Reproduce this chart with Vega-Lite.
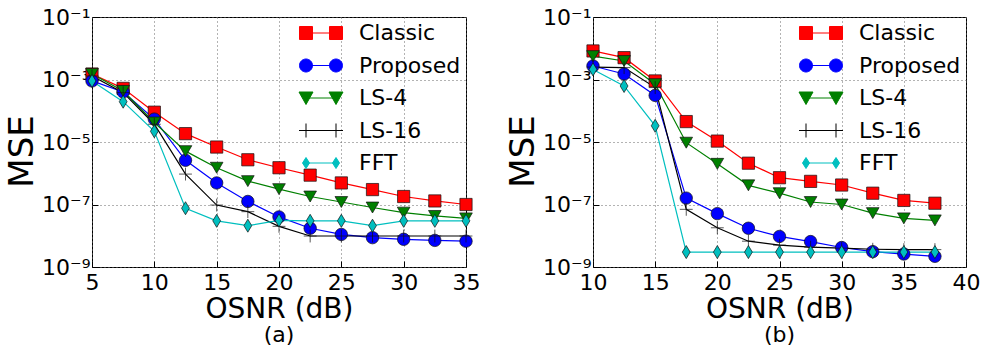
{
  "$schema": "https://vega.github.io/schema/vega-lite/v6.json",
  "background": "white",
  "padding": 5,
  "spacing": 25,
  "config": {
    "font": "DejaVu Sans",
    "view": {"stroke": "black", "strokeWidth": 1},
    "axis": {
      "labelFontSize": 22,
      "titleFontSize": 28,
      "titleFontWeight": "normal",
      "labelColor": "black",
      "titleColor": "black",
      "labelFlush": false,
      "labelOverlap": false,
      "domain": false,
      "ticks": true,
      "tickSize": -6,
      "tickColor": "black",
      "tickWidth": 1,
      "grid": true,
      "gridColor": "#666666",
      "gridDash": [1, 3],
      "gridWidth": 1
    },
    "legend": {
      "labelFontSize": 22,
      "labelColor": "black",
      "labelFont": "DejaVu Sans"
    }
  },
  "datasets": {
    "a": [
      {"osnr": 5, "series": "Classic", "mse": 1.5e-3},
      {"osnr": 7.5, "series": "Classic", "mse": 5.2e-4},
      {"osnr": 10, "series": "Classic", "mse": 9e-5},
      {"osnr": 12.5, "series": "Classic", "mse": 1.85e-5},
      {"osnr": 15, "series": "Classic", "mse": 6.9e-6},
      {"osnr": 17.5, "series": "Classic", "mse": 2.7e-6},
      {"osnr": 20, "series": "Classic", "mse": 1.5e-6},
      {"osnr": 22.5, "series": "Classic", "mse": 8.7e-7},
      {"osnr": 25, "series": "Classic", "mse": 4.9e-7},
      {"osnr": 27.5, "series": "Classic", "mse": 3e-7},
      {"osnr": 30, "series": "Classic", "mse": 1.8e-7},
      {"osnr": 32.5, "series": "Classic", "mse": 1.3e-7},
      {"osnr": 35, "series": "Classic", "mse": 1e-7},
      {"osnr": 5, "series": "Proposed", "mse": 9e-4},
      {"osnr": 7.5, "series": "Proposed", "mse": 4e-4},
      {"osnr": 10, "series": "Proposed", "mse": 5.4e-5},
      {"osnr": 12.5, "series": "Proposed", "mse": 2.6e-6},
      {"osnr": 15, "series": "Proposed", "mse": 4.9e-7},
      {"osnr": 17.5, "series": "Proposed", "mse": 1.25e-7},
      {"osnr": 20, "series": "Proposed", "mse": 4e-8},
      {"osnr": 22.5, "series": "Proposed", "mse": 1.74e-8},
      {"osnr": 25, "series": "Proposed", "mse": 1.1e-8},
      {"osnr": 27.5, "series": "Proposed", "mse": 8.7e-9},
      {"osnr": 30, "series": "Proposed", "mse": 7.7e-9},
      {"osnr": 32.5, "series": "Proposed", "mse": 7.1e-9},
      {"osnr": 35, "series": "Proposed", "mse": 6.7e-9},
      {"osnr": 5, "series": "LS-4", "mse": 1.5e-3},
      {"osnr": 7.5, "series": "LS-4", "mse": 4.3e-4},
      {"osnr": 10, "series": "LS-4", "mse": 4.2e-5},
      {"osnr": 12.5, "series": "LS-4", "mse": 5.1e-6},
      {"osnr": 15, "series": "LS-4", "mse": 1.5e-6},
      {"osnr": 17.5, "series": "LS-4", "mse": 5.6e-7},
      {"osnr": 20, "series": "LS-4", "mse": 3.1e-7},
      {"osnr": 22.5, "series": "LS-4", "mse": 1.8e-7},
      {"osnr": 25, "series": "LS-4", "mse": 1.2e-7},
      {"osnr": 27.5, "series": "LS-4", "mse": 8e-8},
      {"osnr": 30, "series": "LS-4", "mse": 5.5e-8},
      {"osnr": 32.5, "series": "LS-4", "mse": 4.3e-8},
      {"osnr": 35, "series": "LS-4", "mse": 3.6e-8},
      {"osnr": 5, "series": "LS-16", "mse": 1.3e-3},
      {"osnr": 7.5, "series": "LS-16", "mse": 3.8e-4},
      {"osnr": 10, "series": "LS-16", "mse": 3.7e-5},
      {"osnr": 12.5, "series": "LS-16", "mse": 9.4e-7},
      {"osnr": 15, "series": "LS-16", "mse": 9.6e-8},
      {"osnr": 17.5, "series": "LS-16", "mse": 5.9e-8},
      {"osnr": 20, "series": "LS-16", "mse": 2e-8},
      {"osnr": 22.5, "series": "LS-16", "mse": 9.8e-9},
      {"osnr": 25, "series": "LS-16", "mse": 9.8e-9},
      {"osnr": 27.5, "series": "LS-16", "mse": 9.8e-9},
      {"osnr": 30, "series": "LS-16", "mse": 9.8e-9},
      {"osnr": 32.5, "series": "LS-16", "mse": 9.8e-9},
      {"osnr": 35, "series": "LS-16", "mse": 9.8e-9},
      {"osnr": 5, "series": "FFT", "mse": 9e-4},
      {"osnr": 7.5, "series": "FFT", "mse": 1.95e-4},
      {"osnr": 10, "series": "FFT", "mse": 2.2e-5},
      {"osnr": 12.5, "series": "FFT", "mse": 7.6e-8},
      {"osnr": 15, "series": "FFT", "mse": 3e-8},
      {"osnr": 17.5, "series": "FFT", "mse": 2.1e-8},
      {"osnr": 20, "series": "FFT", "mse": 3.1e-8},
      {"osnr": 22.5, "series": "FFT", "mse": 3e-8},
      {"osnr": 25, "series": "FFT", "mse": 3e-8},
      {"osnr": 27.5, "series": "FFT", "mse": 2.1e-8},
      {"osnr": 30, "series": "FFT", "mse": 3e-8},
      {"osnr": 32.5, "series": "FFT", "mse": 3e-8},
      {"osnr": 35, "series": "FFT", "mse": 3e-8}
    ],
    "b": [
      {"osnr": 10, "series": "Classic", "mse": 8.2e-3},
      {"osnr": 12.5, "series": "Classic", "mse": 5e-3},
      {"osnr": 15, "series": "Classic", "mse": 9e-4},
      {"osnr": 17.5, "series": "Classic", "mse": 4.5e-5},
      {"osnr": 20, "series": "Classic", "mse": 1.07e-5},
      {"osnr": 22.5, "series": "Classic", "mse": 2.1e-6},
      {"osnr": 25, "series": "Classic", "mse": 7.2e-7},
      {"osnr": 27.5, "series": "Classic", "mse": 5.5e-7},
      {"osnr": 30, "series": "Classic", "mse": 4.2e-7},
      {"osnr": 32.5, "series": "Classic", "mse": 2.3e-7},
      {"osnr": 35, "series": "Classic", "mse": 1.35e-7},
      {"osnr": 37.5, "series": "Classic", "mse": 1.1e-7},
      {"osnr": 10, "series": "Proposed", "mse": 2.7e-3},
      {"osnr": 12.5, "series": "Proposed", "mse": 1.5e-3},
      {"osnr": 15, "series": "Proposed", "mse": 3.1e-4},
      {"osnr": 17.5, "series": "Proposed", "mse": 1.6e-7},
      {"osnr": 20, "series": "Proposed", "mse": 5.1e-8},
      {"osnr": 22.5, "series": "Proposed", "mse": 1.74e-8},
      {"osnr": 25, "series": "Proposed", "mse": 9.5e-9},
      {"osnr": 27.5, "series": "Proposed", "mse": 6.5e-9},
      {"osnr": 30, "series": "Proposed", "mse": 4.2e-9},
      {"osnr": 32.5, "series": "Proposed", "mse": 3.1e-9},
      {"osnr": 35, "series": "Proposed", "mse": 2.6e-9},
      {"osnr": 37.5, "series": "Proposed", "mse": 2.2e-9},
      {"osnr": 10, "series": "LS-4", "mse": 5.6e-3},
      {"osnr": 12.5, "series": "LS-4", "mse": 3.9e-3},
      {"osnr": 15, "series": "LS-4", "mse": 7.1e-4},
      {"osnr": 17.5, "series": "LS-4", "mse": 9.5e-6},
      {"osnr": 20, "series": "LS-4", "mse": 2e-6},
      {"osnr": 22.5, "series": "LS-4", "mse": 4.1e-7},
      {"osnr": 25, "series": "LS-4", "mse": 2.3e-7},
      {"osnr": 27.5, "series": "LS-4", "mse": 1.2e-7},
      {"osnr": 30, "series": "LS-4", "mse": 1e-7},
      {"osnr": 32.5, "series": "LS-4", "mse": 5.3e-8},
      {"osnr": 35, "series": "LS-4", "mse": 3.6e-8},
      {"osnr": 37.5, "series": "LS-4", "mse": 3.1e-8},
      {"osnr": 10, "series": "LS-16", "mse": 2.5e-3},
      {"osnr": 12.5, "series": "LS-16", "mse": 2.4e-3},
      {"osnr": 15, "series": "LS-16", "mse": 5.5e-4},
      {"osnr": 17.5, "series": "LS-16", "mse": 7e-8},
      {"osnr": 20, "series": "LS-16", "mse": 1.8e-8},
      {"osnr": 22.5, "series": "LS-16", "mse": 6.7e-9},
      {"osnr": 25, "series": "LS-16", "mse": 5e-9},
      {"osnr": 27.5, "series": "LS-16", "mse": 4.3e-9},
      {"osnr": 30, "series": "LS-16", "mse": 4e-9},
      {"osnr": 32.5, "series": "LS-16", "mse": 3.7e-9},
      {"osnr": 35, "series": "LS-16", "mse": 3.6e-9},
      {"osnr": 37.5, "series": "LS-16", "mse": 3.6e-9},
      {"osnr": 10, "series": "FFT", "mse": 2.1e-3},
      {"osnr": 12.5, "series": "FFT", "mse": 6.2e-4},
      {"osnr": 15, "series": "FFT", "mse": 3.3e-5},
      {"osnr": 17.5, "series": "FFT", "mse": 3e-9},
      {"osnr": 20, "series": "FFT", "mse": 3e-9},
      {"osnr": 22.5, "series": "FFT", "mse": 3e-9},
      {"osnr": 25, "series": "FFT", "mse": 3e-9},
      {"osnr": 27.5, "series": "FFT", "mse": 3e-9},
      {"osnr": 30, "series": "FFT", "mse": 3e-9},
      {"osnr": 32.5, "series": "FFT", "mse": 3e-9},
      {"osnr": 35, "series": "FFT", "mse": 3e-9},
      {"osnr": 37.5, "series": "FFT", "mse": 3e-9}
    ]
  },
  "hconcat": [
    {
      "width": 374,
      "height": 250,
      "data": {"name": "a"},
      "title": {"text": "(a)", "orient": "bottom", "fontSize": 22, "fontWeight": "normal", "offset": 2, "color": "black"},
      "encoding": {
        "x": {"field": "osnr", "type": "quantitative", "scale": {"domain": [5, 35], "nice": false}, "axis": {"values": [5, 10, 15, 20, 25, 30, 35], "title": "OSNR (dB)", "labelPadding": 11, "titlePadding": 2}},
        "y": {"field": "mse", "type": "quantitative", "scale": {"type": "log", "domain": [1e-9, 1e-1], "nice": false}, "axis": {"values": [1e-9, 1e-7, 1e-5, 1e-3, 1e-1], "title": "MSE", "titleFontSize": 34, "titleY": 134, "labelPadding": 8, "titlePadding": 2, "labelExpr": "'10' + (round(log(datum.value)/LN10) == -1 ? '⁻¹' : round(log(datum.value)/LN10) == -3 ? '⁻³' : round(log(datum.value)/LN10) == -5 ? '⁻⁵' : round(log(datum.value)/LN10) == -7 ? '⁻⁷' : '⁻⁹')"}}
      },
      "layer": [
        {
          "mark": {"type": "line", "strokeWidth": 1.2},
          "encoding": {
            "color": {"field": "series", "type": "nominal", "scale": {"domain": ["Classic", "Proposed", "LS-4", "LS-16", "FFT"], "range": ["#ff0000", "#0000ff", "#008000", "#000000", "#00bfbf"]}, "legend": null}
          }
        },
        {
          "mark": {"type": "point", "filled": true, "opacity": 1, "stroke": "#111111", "strokeWidth": 0.7},
          "encoding": {
            "color": {"field": "series", "type": "nominal", "scale": {"domain": ["Classic", "Proposed", "LS-4", "LS-16", "FFT"], "range": ["#ff0000", "#0000ff", "#008000", "#000000", "#00bfbf"]}, "legend": null},
            "shape": {"field": "series", "type": "nominal", "scale": {"domain": ["Classic", "Proposed", "LS-4", "LS-16", "FFT"], "range": ["square", "circle", "triangle-down", "M-1,0H1M0,-1V1", "M0,-1L0.6,0L0,1L-0.6,0Z"]}, "legend": null},
            "size": {"field": "series", "type": "nominal", "scale": {"domain": ["Classic", "Proposed", "LS-4", "LS-16", "FFT"], "range": [150, 170, 150, 196, 121]}, "legend": null}
          }
        },
        {
          "transform": [{"filter": "datum.osnr < 0"}],
          "mark": {"type": "point", "filled": true, "opacity": 1, "strokeWidth": 1},
          "encoding": {
            "fill": {"field": "series", "type": "nominal", "scale": {"domain": ["Classic", "Proposed", "LS-4", "LS-16", "FFT"], "range": ["#ff0000", "#0000ff", "#008000", "#000000", "#00bfbf"]}, "legend": {"title": null, "orient": "top-right", "offset": 5, "symbolSize": 400, "symbolStrokeWidth": 1, "labelOffset": 27, "rowPadding": 10.5}},
            "stroke": {"field": "series", "type": "nominal", "scale": {"domain": ["Classic", "Proposed", "LS-4", "LS-16", "FFT"], "range": ["#ff0000", "#0000ff", "#008000", "#000000", "#00bfbf"]}, "legend": {"title": null, "orient": "top-right", "offset": 5, "symbolSize": 400, "symbolStrokeWidth": 1, "labelOffset": 27, "rowPadding": 10.5}},
            "shape": {"field": "series", "type": "nominal", "scale": {"domain": ["Classic", "Proposed", "LS-4", "LS-16", "FFT"], "range": [
              "M-1.5,0H1.5M-2.15,-0.65H-0.85V0.65H-2.15ZM0.85,-0.65H2.15V0.65H0.85Z",
              "M-1.5,0H1.5M-2.15,0A0.65,0.65 0 1,0 -0.85,0A0.65,0.65 0 1,0 -2.15,0ZM0.85,0A0.65,0.65 0 1,0 2.15,0A0.65,0.65 0 1,0 0.85,0Z",
              "M-1.5,0H1.5M-2.2,-0.6L-0.8,-0.6L-1.5,0.65ZM0.8,-0.6L2.2,-0.6L1.5,0.65Z",
              "M-2.2,0H2.2M-1.5,-0.7V0.7M1.5,-0.7V0.7",
              "M-1.5,0H1.5M-1.5,-0.55L-1.15,0L-1.5,0.55L-1.85,0ZM1.5,-0.55L1.85,0L1.5,0.55L1.15,0Z"
            ]}, "legend": {"title": null, "orient": "top-right", "offset": 5, "symbolSize": 400, "symbolStrokeWidth": 1, "labelOffset": 27, "rowPadding": 10.5}}
          }
        }
      ],
      "resolve": {"scale": {"shape": "independent", "fill": "independent", "stroke": "independent"}}
    },
    {
      "width": 373,
      "height": 250,
      "data": {"name": "b"},
      "title": {"text": "(b)", "orient": "bottom", "fontSize": 22, "fontWeight": "normal", "offset": 2, "color": "black"},
      "encoding": {
        "x": {"field": "osnr", "type": "quantitative", "scale": {"domain": [10, 40], "nice": false}, "axis": {"values": [10, 15, 20, 25, 30, 35, 40], "title": "OSNR (dB)", "labelPadding": 11, "titlePadding": 2}},
        "y": {"field": "mse", "type": "quantitative", "scale": {"type": "log", "domain": [1e-9, 1e-1], "nice": false}, "axis": {"values": [1e-9, 1e-7, 1e-5, 1e-3, 1e-1], "title": "MSE", "titleFontSize": 34, "titleY": 134, "labelPadding": 8, "titlePadding": 2, "labelExpr": "'10' + (round(log(datum.value)/LN10) == -1 ? '⁻¹' : round(log(datum.value)/LN10) == -3 ? '⁻³' : round(log(datum.value)/LN10) == -5 ? '⁻⁵' : round(log(datum.value)/LN10) == -7 ? '⁻⁷' : '⁻⁹')"}}
      },
      "layer": [
        {
          "mark": {"type": "line", "strokeWidth": 1.2},
          "encoding": {
            "color": {"field": "series", "type": "nominal", "scale": {"domain": ["Classic", "Proposed", "LS-4", "LS-16", "FFT"], "range": ["#ff0000", "#0000ff", "#008000", "#000000", "#00bfbf"]}, "legend": null}
          }
        },
        {
          "mark": {"type": "point", "filled": true, "opacity": 1, "stroke": "#111111", "strokeWidth": 0.7},
          "encoding": {
            "color": {"field": "series", "type": "nominal", "scale": {"domain": ["Classic", "Proposed", "LS-4", "LS-16", "FFT"], "range": ["#ff0000", "#0000ff", "#008000", "#000000", "#00bfbf"]}, "legend": null},
            "shape": {"field": "series", "type": "nominal", "scale": {"domain": ["Classic", "Proposed", "LS-4", "LS-16", "FFT"], "range": ["square", "circle", "triangle-down", "M-1,0H1M0,-1V1", "M0,-1L0.6,0L0,1L-0.6,0Z"]}, "legend": null},
            "size": {"field": "series", "type": "nominal", "scale": {"domain": ["Classic", "Proposed", "LS-4", "LS-16", "FFT"], "range": [150, 170, 150, 196, 121]}, "legend": null}
          }
        },
        {
          "transform": [{"filter": "datum.osnr < 0"}],
          "mark": {"type": "point", "filled": true, "opacity": 1, "strokeWidth": 1},
          "encoding": {
            "fill": {"field": "series", "type": "nominal", "scale": {"domain": ["Classic", "Proposed", "LS-4", "LS-16", "FFT"], "range": ["#ff0000", "#0000ff", "#008000", "#000000", "#00bfbf"]}, "legend": {"title": null, "orient": "top-right", "offset": 5, "symbolSize": 400, "symbolStrokeWidth": 1, "labelOffset": 27, "rowPadding": 10.5}},
            "stroke": {"field": "series", "type": "nominal", "scale": {"domain": ["Classic", "Proposed", "LS-4", "LS-16", "FFT"], "range": ["#ff0000", "#0000ff", "#008000", "#000000", "#00bfbf"]}, "legend": {"title": null, "orient": "top-right", "offset": 5, "symbolSize": 400, "symbolStrokeWidth": 1, "labelOffset": 27, "rowPadding": 10.5}},
            "shape": {"field": "series", "type": "nominal", "scale": {"domain": ["Classic", "Proposed", "LS-4", "LS-16", "FFT"], "range": [
              "M-1.5,0H1.5M-2.15,-0.65H-0.85V0.65H-2.15ZM0.85,-0.65H2.15V0.65H0.85Z",
              "M-1.5,0H1.5M-2.15,0A0.65,0.65 0 1,0 -0.85,0A0.65,0.65 0 1,0 -2.15,0ZM0.85,0A0.65,0.65 0 1,0 2.15,0A0.65,0.65 0 1,0 0.85,0Z",
              "M-1.5,0H1.5M-2.2,-0.6L-0.8,-0.6L-1.5,0.65ZM0.8,-0.6L2.2,-0.6L1.5,0.65Z",
              "M-2.2,0H2.2M-1.5,-0.7V0.7M1.5,-0.7V0.7",
              "M-1.5,0H1.5M-1.5,-0.55L-1.15,0L-1.5,0.55L-1.85,0ZM1.5,-0.55L1.85,0L1.5,0.55L1.15,0Z"
            ]}, "legend": {"title": null, "orient": "top-right", "offset": 5, "symbolSize": 400, "symbolStrokeWidth": 1, "labelOffset": 27, "rowPadding": 10.5}}
          }
        }
      ],
      "resolve": {"scale": {"shape": "independent", "fill": "independent", "stroke": "independent"}}
    }
  ]
}
